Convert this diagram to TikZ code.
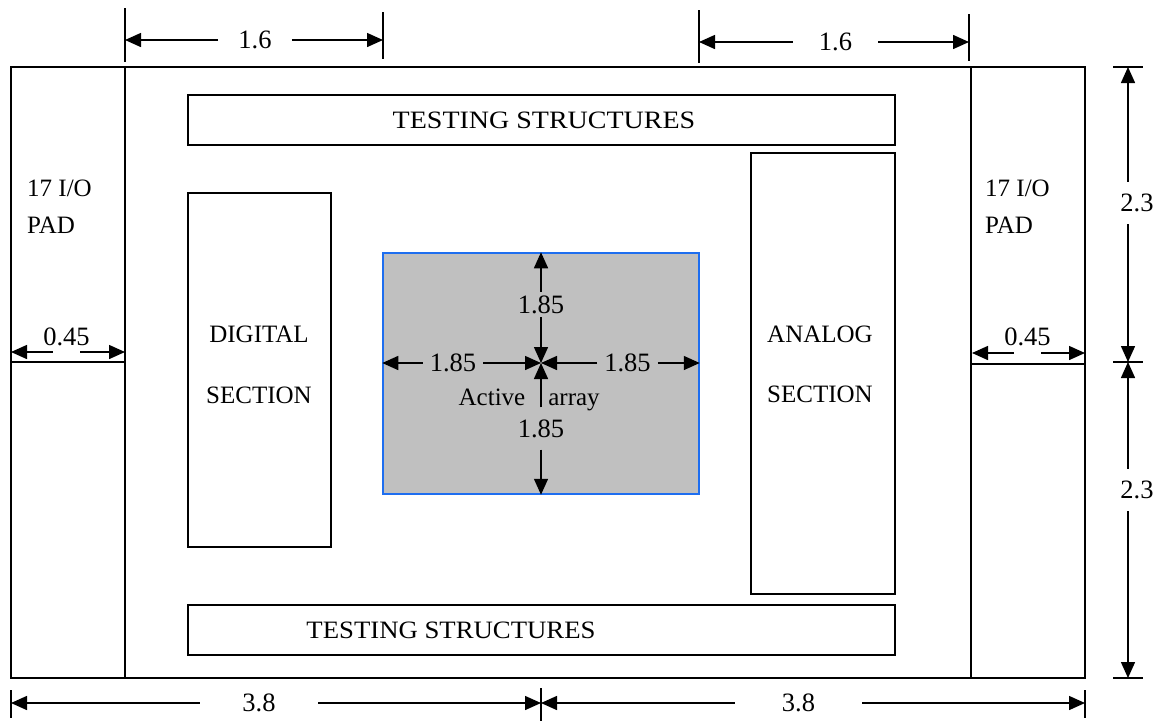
\documentclass[tikz,border=0pt]{standalone}
\usepackage{fontspec}
\setmainfont{Liberation Serif}
\usetikzlibrary{arrows.meta,calc}
\definecolor{arrfill}{RGB}{192,192,192}
\definecolor{arredge}{RGB}{30,110,240}
\begin{document}
\begin{tikzpicture}[x=1pt,y=-1pt,
  blk/.style={draw,line width=1.5pt,rectangle,inner sep=0pt},
  lbl/.style={font=\fontsize{25}{30}\selectfont,inner sep=0pt},
  num/.style={font=\fontsize{26.5}{30}\selectfont,inner sep=0pt},
  dim/.style={line width=1.5pt,-{Triangle[length=16pt,width=14pt]}},
  tick/.style={line width=1.5pt},
]
\useasboundingbox (0,0) rectangle (1162,721);

% chip outline and the two pad columns
\node[blk,minimum width=1074pt,minimum height=611pt] (chip) at (548,372.5) {};
\node[blk,minimum width=114pt,minimum height=611pt] (padL) at (68,372.5) {};
\node[blk,minimum width=114pt,minimum height=611pt] (padR) at (1028,372.5) {};
\draw[tick] (padL.west |- 0,362) -- (padL.east |- 0,362);
\draw[tick] (padR.west |- 0,364) -- (padR.east |- 0,364);
\node[lbl,anchor=base west] (ioL) at (27,196) {17 I/O};
\node[lbl,anchor=base west] (padLt) at (27,233) {PAD};
\node[lbl,anchor=base west] (ioR) at (985,196) {17 I/O};
\node[lbl,anchor=base west] (padRt) at (985,233) {PAD};

% testing structure strips
\node[blk,minimum width=707pt,minimum height=50pt] (testT) at (541.5,120) {};
\node[lbl,anchor=base] (testTt) at (544,128) {\scalebox{1.12}[1]{TESTING STRUCTURES}};
\node[blk,minimum width=707pt,minimum height=50pt] (testB) at (541.5,630) {};
\node[lbl,anchor=base] (testBt) at (451,638) {\scalebox{1.07}[1]{TESTING STRUCTURES}};

% digital and analog sections
\node[blk,minimum width=143pt,minimum height=354pt] (dig) at (259.5,370) {};
\node[lbl,anchor=base] (digA) at (259,342) {DIGITAL};
\node[lbl,anchor=base] (digB) at (259,403) {SECTION};
\node[blk,minimum width=144pt,minimum height=441pt] (ana) at (823,373.5) {};
\node[lbl,anchor=base] (anaA) at (820,342) {ANALOG};
\node[lbl,anchor=base] (anaB) at (820,402) {SECTION};

% active array with its four half-widths
\node[draw=arredge,fill=arrfill,line width=1.5pt,minimum width=316pt,minimum height=241pt,inner sep=0pt] (arr) at (541,373.5) {};
\coordinate (c) at (541,363);
\node[num,inner xsep=7pt] (aL) at (453,363) {1.85};
\node[num,inner xsep=7pt] (aR) at (627.5,363) {1.85};
\node[num,inner ysep=3.5pt] (aT) at (541,304.5) {1.85};
\node[num,inner ysep=12pt] (aB) at (541,428.5) {1.85};
\draw[dim] (aL.west) -- (arr.west |- c);
\draw[dim] (aL.east) -- (c);
\draw[dim] (aR.west) -- (c);
\draw[dim] (aR.east) -- (arr.east |- c);
\draw[dim] (aT.north) -- (arr.north -| c);
\draw[dim] (aT.south) -- (c);
\draw[dim] (aB.north) -- (c);
\draw[dim] (aB.south) -- (arr.south -| c);
\node[lbl,anchor=base] (act) at (492,405) {Active};
\node[lbl,anchor=base] (arrt) at (574,405) {array};

% pad widths
\coordinate (wLa) at (11,352);
\coordinate (wLb) at (125,352);
\node[num,inner xsep=-9.5pt] (wL) at (66.5,337) {0.45};
\draw[dim] (wL.west |- wLa) -- (wLa);
\draw[dim] (wL.east |- wLb) -- (wLb);
\coordinate (wRa) at (972,353);
\coordinate (wRb) at (1085,353);
\node[num,inner xsep=-9.5pt] (wR) at (1027.5,337) {0.45};
\draw[dim] (wR.west |- wRa) -- (wRa);
\draw[dim] (wR.east |- wRb) -- (wRb);

% top dimensions
\draw[tick] (125,8) -- (125,62);
\draw[tick] (383,12) -- (383,59);
\coordinate (ta) at (125,40);
\coordinate (tb) at (383,40);
\node[num,inner xsep=20pt] (t1) at (255,40) {1.6};
\draw[dim] (t1.west) -- (ta);
\draw[dim] (t1.east) -- (tb);
\draw[tick] (699,10) -- (699,63);
\draw[tick] (969,14) -- (969,61);
\coordinate (tc) at (699,42);
\coordinate (td) at (969,42);
\node[num,inner xsep=26pt] (t2) at (835.5,42) {1.6};
\draw[dim] (t2.west) -- (tc);
\draw[dim] (t2.east) -- (td);

% right-hand height dimensions
\draw[tick] (1113,67) -- (1143,67);
\draw[tick] (1113,362) -- (1143,362);
\draw[tick] (1113,678) -- (1143,678);
\coordinate (vtop) at (1128,67);
\coordinate (vmid) at (1128,362);
\coordinate (vbot) at (1128,678);
\node[num,inner ysep=12pt] (h1) at (1137,203) {2.3};
\node[num,inner ysep=12pt] (h2) at (1137,490) {2.3};
\draw[dim] (h1.north -| vtop) -- (vtop);
\draw[dim] (h1.south -| vtop) -- (vmid);
\draw[dim] (h2.north -| vtop) -- (vmid);
\draw[dim] (h2.south -| vtop) -- (vbot);

% bottom width dimensions
\draw[tick] (11,690) -- (11,718);
\draw[tick] (541,688) -- (541,721);
\draw[tick] (1085,690) -- (1085,718);
\coordinate (ba) at (11,703);
\coordinate (bm) at (541,703);
\coordinate (bb) at (1085,703);
\node[num,inner xsep=42.5pt] (w1) at (259,703) {3.8};
\node[num,inner xsep=47pt] (w2) at (798.5,703) {3.8};
\draw[dim] (w1.west) -- (ba);
\draw[dim] (w1.east) -- (bm);
\draw[dim] (w2.west) -- (bm);
\draw[dim] (w2.east) -- (bb);
\end{tikzpicture}
\end{document}
